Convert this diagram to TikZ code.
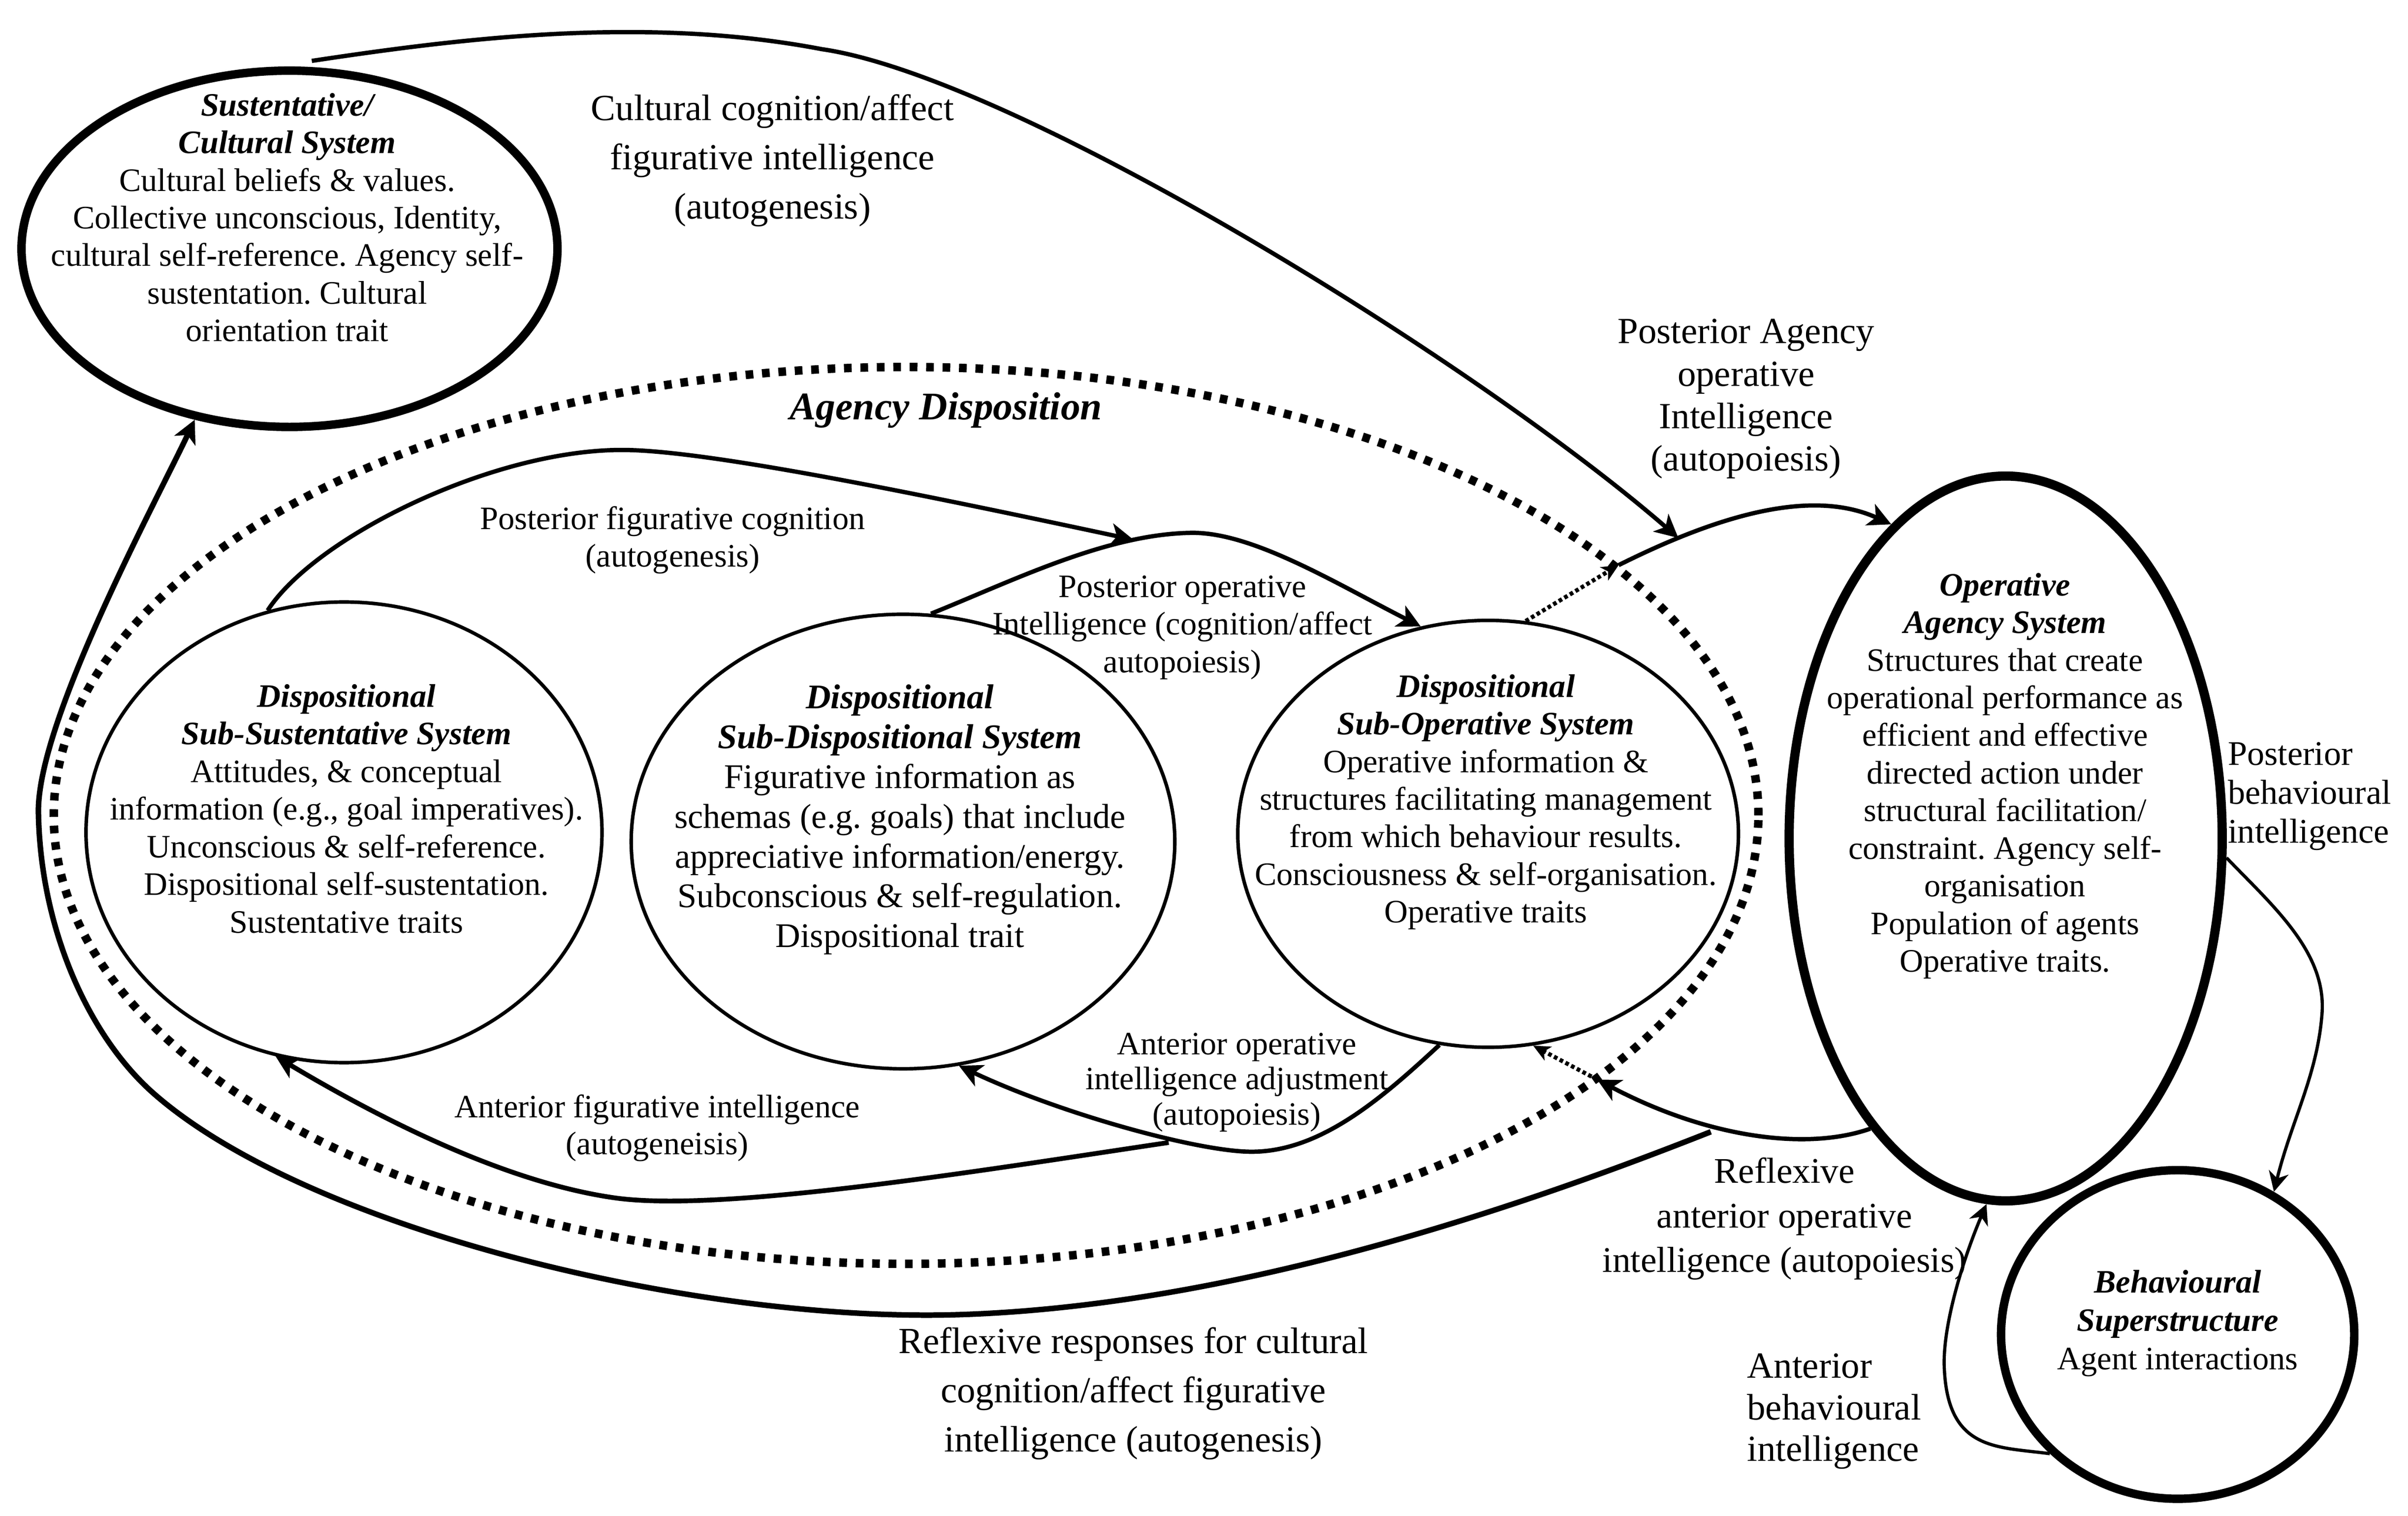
\documentclass[tikz,border=0pt]{standalone}
\usepackage{fontspec}
\setmainfont{Liberation Serif}
\usetikzlibrary{arrows.meta,shapes.geometric}
\newcommand{\mytitle}[1]{{\bfseries\itshape #1}}
\frenchspacing
\begin{document}
\begin{tikzpicture}[x=1pt,y=-1pt,
  thickell/.style={draw, ellipse, line width=5.5pt, inner sep=0pt},
  thinell/.style={draw, ellipse, line width=2.3pt, inner sep=0pt},
  agencyell/.style={draw, ellipse, line width=5.5pt, dash pattern=on 5pt off 5.7pt, inner sep=0pt},
  conn/.style={line width=2.8pt, -{Stealth[length=15pt,width=15pt,inset=4pt]}},
  thinconn/.style={line width=2.1pt, -{Stealth[length=13pt,width=13pt,inset=4pt]}},
  dotconn/.style={line width=2.7pt, dash pattern=on 2.4pt off 1.8pt, -{Stealth[length=11pt,width=10pt,inset=3pt]}},
  txt/.style={align=center, inner sep=0pt, font=\fontsize{21.3}{24.5}\selectfont},
  bigtxt/.style={align=center, inner sep=0pt, font=\fontsize{24}{32}\selectfont},
]
\fill[white] (0,0) rectangle (1568,987);
\useasboundingbox (0,0) rectangle (1568,987);

% ---- system ellipses ----
\node[thickell, minimum width=349pt, minimum height=232pt] (cult) at (188.5,162) {};
\node[agencyell, minimum width=1110pt, minimum height=584pt] (agency) at (590,531) {};
\node[thinell, minimum width=336pt, minimum height=300pt] (subsus) at (224,542) {};
\node[thinell, minimum width=354pt, minimum height=296pt] (subdisp) at (588,548) {};
\node[thinell, minimum width=326pt, minimum height=278pt] (subop) at (969,543) {};
\node[thickell, line width=6pt, minimum width=282pt, minimum height=472pt] (opag) at (1306,546) {};
\node[thickell, minimum width=230pt, minimum height=214pt] (behav) at (1418,869) {};

% ---- texts inside ellipses ----
\node[txt] (cultT) at (187,144) {\strut\mytitle{Sustentative/}\\\mytitle{Cultural System}\\Cultural beliefs \& values.\\Collective unconscious, Identity,\\cultural self-reference. Agency self-\\sustentation. Cultural\\orientation trait\strut};
\node[txt] (subsusT) at (225.6,529) {\strut\mytitle{Dispositional}\\\mytitle{Sub-Sustentative System}\\Attitudes, \& conceptual\\information (e.g., goal imperatives).\\Unconscious \& self-reference.\\Dispositional self-sustentation.\\Sustentative traits\strut};
\node[txt, font=\fontsize{22.5}{25.9}\selectfont] (subdispT) at (586,534) {\strut\mytitle{Dispositional}\\\mytitle{Sub-Dispositional System}\\Figurative information as\\schemas (e.g. goals) that include\\appreciative information/energy.\\Subconscious \& self-regulation.\\Dispositional trait\strut};
\node[txt] (subopT) at (967.5,522.5) {\strut\mytitle{Dispositional}\\\mytitle{Sub-Operative System}\\Operative information \&\\structures facilitating management\\from which behaviour results.\\Consciousness \& self-organisation.\\Operative traits\strut};
\node[txt] (opagT) at (1305.6,505.5) {\strut\mytitle{Operative}\\\mytitle{Agency System}\\Structures that create\\operational performance as\\efficient and effective\\directed action under\\structural facilitation/\\constraint. Agency self-\\organisation\\Population of agents\\Operative traits.\strut};
\node[txt, font=\fontsize{21.3}{25}\selectfont] (behavT) at (1418,862) {\strut\mytitle{Behavioural}\\\mytitle{Superstructure}\\Agent interactions\strut};
\node[inner sep=0pt, font=\fontsize{25.5}{30}\selectfont\bfseries\itshape] (agencyT) at (616,267) {Agency Disposition};

% ---- junction points ----
\coordinate (x1) at (1054,368);
\coordinate (x2) at (1040,703);
\coordinate (gS) at (761,744);
\coordinate (iS) at (1114,737);

% ---- connectors ----
% posterior agency operative intelligence
\draw[conn] (x1) .. controls (1120,335) and (1180,318) .. (opag.110) coordinate[pos=0.2] (jA);
% cultural cognition
\draw[conn] ([yshift=4pt]cult.83) .. controls (300,25) and (420,10) .. (535,32) .. controls (660,50) and (960,235) .. (jA);
% dotted from sub-operative
\draw[dotconn] (subop.80) -- (x1);
% posterior operative intelligence
\draw[conn] (subdisp.83) .. controls (660,378) and (720,348) .. (775,347) coordinate[pos=0.78] (jD) .. controls (815,346) and (870,380) .. (subop.108);
% posterior figurative cognition
\draw[conn] (subsus.109) .. controls (205,350) and (320,293) .. (405,293) .. controls (460,293) and (600,322) .. (jD);
% anterior operative intelligence adjustment
\draw[conn] (subop.257) .. controls (900,715) and (860,750) .. (815,750) .. controls (780,750) and (690,725) .. (subdisp.284);
% anterior figurative intelligence
\draw[conn, line width=3.1pt] (gS) .. controls (640,762) and (470,790) .. (400,780) .. controls (330,770) and (250,730) .. (subsus.253);
% reflexive anterior operative intelligence
\draw[conn] (opag.245) .. controls (1175,750) and (1110,740) .. (x2);
\draw[dotconn] (x2) -- (subop.282);
% reflexive responses
\draw[conn, line width=3.6pt] (iS) .. controls (980,790) and (800,850) .. (627,856) .. controls (454,862) and (200,800) .. (100,712) .. controls (58,675) and (26,605) .. (25,528) .. controls (25,468) and (102,326) .. (cult.241);
% posterior behavioural intelligence
\draw[thinconn] (opag.355) .. controls (1480,590) and (1515,620) .. (1512,660) .. controls (1509,700) and (1492,730) .. (behav.56);
% anterior behavioural intelligence
\draw[thinconn] (behav.223) .. controls (1300,942) and (1268,945) .. (1266,890) .. controls (1265,862) and (1279,818) .. (opag.267);

% ---- connector labels ----
\node[bigtxt] (lCult) at (503,104) {\strut Cultural cognition/affect\\figurative intelligence\\(autogenesis)\strut};
\node[bigtxt, font=\fontsize{24}{27.7}\selectfont] (lPostAg) at (1137,259.6) {\strut Posterior Agency\\operative\\Intelligence\\(autopoiesis)\strut};
\node[txt] (lPostFig) at (438,352) {\strut Posterior figurative cognition\\(autogenesis)\strut};
\node[txt] (lPostOp) at (770,408.5) {\strut Posterior operative\\Intelligence (cognition/affect\\autopoiesis)\strut};
\node[txt, font=\fontsize{21.2}{22.9}\selectfont] (lAntOp) at (805.4,705) {\strut Anterior operative\\intelligence adjustment\\(autopoiesis)\strut};
\node[txt, font=\fontsize{21.2}{24.1}\selectfont] (lAntFig) at (428,735) {\strut Anterior figurative intelligence\\(autogeneisis)\strut};
\node[bigtxt, font=\fontsize{23.5}{29}\selectfont] (lRefAnt) at (1162,793.6) {\strut Reflexive\\anterior operative\\intelligence (autopoiesis)\strut};
\node[bigtxt] (lRefResp) at (738,907) {\strut Reflexive responses for cultural\\cognition/affect figurative\\intelligence (autogenesis)\strut};
\node[align=left, anchor=west, inner sep=0pt, font=\fontsize{22.5}{25.2}\selectfont] (lPostBeh) at (1450.6,518.5) {\strut Posterior\\behavioural\\intelligence\strut};
\node[align=left, anchor=west, inner sep=0pt, font=\fontsize{24}{27}\selectfont] (lAntBeh) at (1137.5,919) {\strut Anterior\\behavioural\\intelligence\strut};
\end{tikzpicture}
\end{document}
